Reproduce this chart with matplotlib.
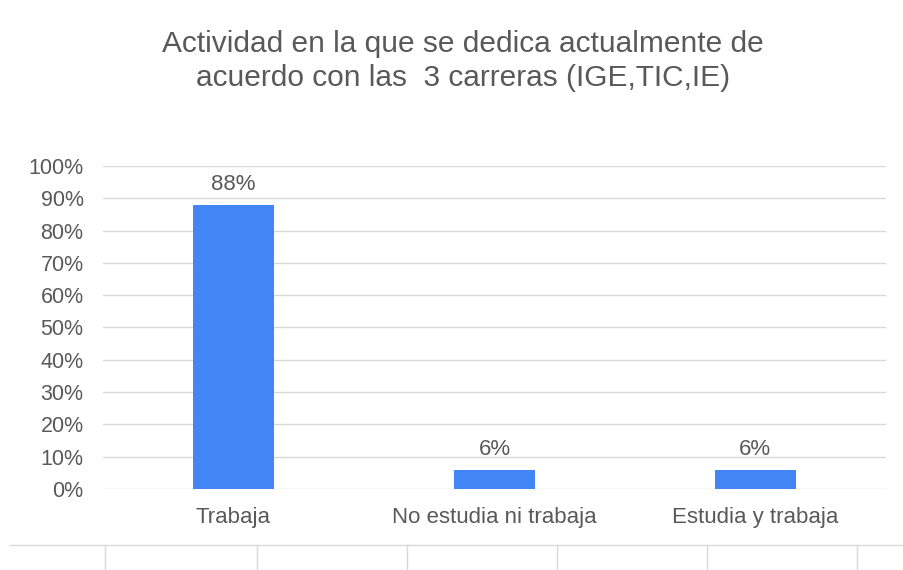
import numpy as np
import matplotlib
matplotlib.use("Agg")
import matplotlib.pyplot as plt
from matplotlib.lines import Line2D
from matplotlib.ticker import PercentFormatter

plt.rcParams['font.family'] = ['Liberation Sans', 'DejaVu Sans']

# data
categories = ['Trabaja', 'No estudia ni trabaja', 'Estudia y trabaja']
values = [0.88, 0.06, 0.06]
value_labels = ['88%', '6%', '6%']
y_ticks = [0.0, 0.1, 0.2, 0.3, 0.4, 0.5, 0.6, 0.7, 0.8, 0.9, 1.0]

TEXT_COLOR = '#595959'
GRID_COLOR = '#d9d9d9'
BAR_COLOR = '#4285f4'

fig = plt.figure(figsize=(9.04, 5.70), dpi=100)
ax = fig.add_axes([103 / 904, 0.1421, 0.980 - 103 / 904, 0.7088 - 0.1421])

x = np.arange(len(categories))
bars = ax.bar(x, values, width=0.31, color=BAR_COLOR, zorder=3)

for b, lab in zip(bars, value_labels):
    ax.annotate(lab, (b.get_x() + b.get_width() / 2, b.get_height()),
                xytext=(0, 7), textcoords='offset points',
                ha='center', va='bottom', fontsize=16, color=TEXT_COLOR)

ax.set_xlim(-0.5, len(categories) - 0.5)
ax.set_ylim(0, 1.0)
ax.set_yticks(y_ticks)
ax.yaxis.set_major_formatter(PercentFormatter(1.0, decimals=0))
ax.set_xticks(x)
ax.set_xticklabels(categories)

ax.grid(axis='y', color=GRID_COLOR, linewidth=1, zorder=0)
ax.tick_params(axis='both', length=0, colors=TEXT_COLOR)
ax.tick_params(axis='x', pad=13, labelsize=16)
ax.tick_params(axis='y', pad=14, labelsize=15.5)
for s in ax.spines.values():
    s.set_visible(False)

fig.text(0.512, 0.922, 'Actividad en la que se dedica actualmente de',
         ha='center', va='center', fontsize=21.5, color=TEXT_COLOR)
fig.text(0.512, 0.864, 'acuerdo con las  3 carreras (IGE,TIC,IE)',
         ha='center', va='center', fontsize=21.5, color=TEXT_COLOR)

# light grid remnants at the bottom of the sheet
y0 = 1 - 545 / 570
fig.add_artist(Line2D([10 / 904, 1.0], [y0, y0], color=GRID_COLOR, lw=1))
for px in [105, 257, 407, 557, 707, 857]:
    fig.add_artist(Line2D([px / 904, px / 904], [0, y0], color=GRID_COLOR, lw=1))

fig.savefig('out.png', dpi=100)
